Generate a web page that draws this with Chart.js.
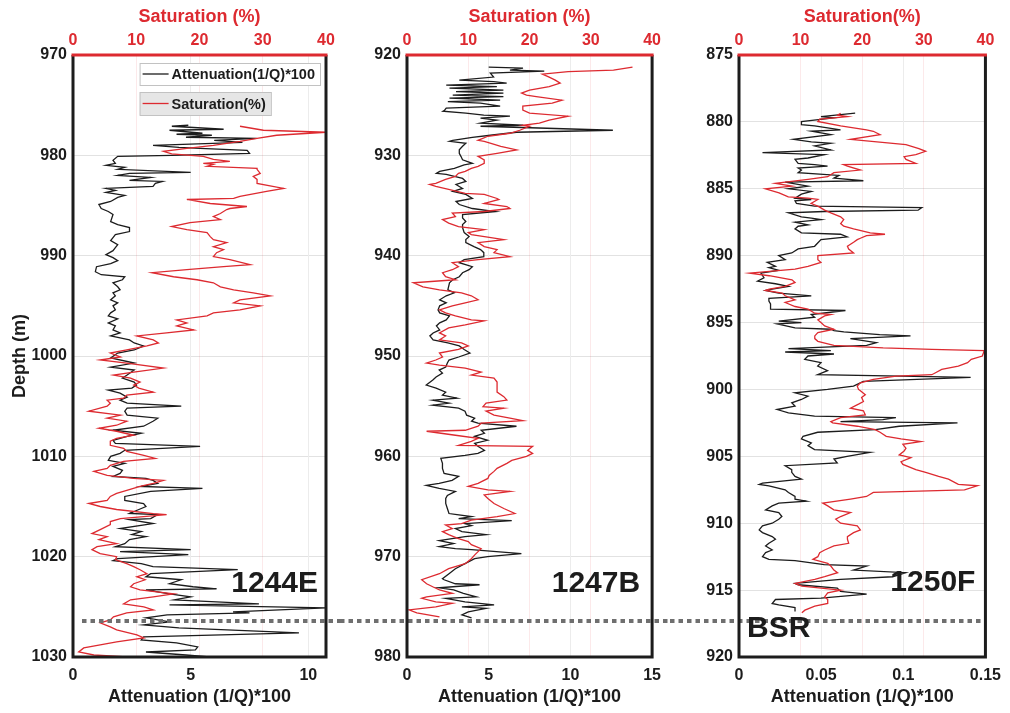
<!DOCTYPE html>
<html lang="en">
<head>
<meta charset="UTF-8">
<title>Attenuation and hydrate saturation vs depth</title>
<script src="https://cdn.jsdelivr.net/npm/chart.js"></script>
<style>
  body { margin: 0; background: #fff; }
  #wrap { position: relative; width: 1010px; height: 713px; }
  #wrap canvas { position: absolute; top: 0; }
</style>
</head>
<body>
<div id="wrap">
  <canvas id="c1244E" width="340" height="713" style="left:0px"></canvas>
  <canvas id="c1247B" width="330" height="713" style="left:340px"></canvas>
  <canvas id="c1250F" width="340" height="713" style="left:670px"></canvas>
</div>
<script>
// [depth (m), value] pairs
const att1244E = [
  [977.0,4.9],[977.1,4.2],[977.4,6.4],[977.5,4.1],[977.8,5.5],[977.9,4.4],[978.0,5.9],[978.2,4.8],[978.3,7.8],[978.5,6.0],[978.7,7.2],[979.0,3.4],[979.2,4.5],[979.3,5.4],[979.5,7.4],[979.8,7.5],[980.0,4.2],[980.1,1.9],[980.5,1.7],[980.8,1.8],[981.0,1.4],[981.2,2.2],[981.4,1.9],[981.7,5.0],[981.8,2.4],[982.0,1.9],[982.2,3.3],[982.5,2.4],[982.6,3.8],[982.8,3.5],[983.1,3.4],[983.3,1.4],[983.5,1.8],[983.7,1.4],[984.0,2.2],[984.2,1.9],[984.6,1.6],[984.9,1.1],[985.3,1.2],[985.6,1.5],[985.9,1.7],[986.6,1.6],[986.9,1.9],[987.2,2.4],[987.6,2.4],[987.9,1.8],[988.2,1.7],[988.5,1.6],[988.9,1.9],[989.2,1.8],[989.5,1.7],[989.9,1.4],[990.2,1.7],[990.5,1.9],[990.8,1.6],[991.1,1.0],[991.6,0.95],[991.9,1.2],[992.1,2.2],[992.4,2.1],[992.7,1.7],[993.1,1.9],[993.4,2.0],[993.7,1.7],[994.0,1.8],[994.4,1.6],[994.7,1.9],[995.0,1.7],[995.4,1.8],[995.7,1.6],[996.0,1.5],[996.3,1.9],[996.7,1.5],[997.0,1.8],[997.4,1.7],[997.7,2.0],[998.0,1.6],[998.4,2.4],[998.7,2.6],[999.0,3.0],[999.4,2.6],[999.7,1.9],
  [1000.2,1.6],[1000.7,2.6],[1001.1,1.6],[1001.4,2.6],[1001.9,2.3],[1002.2,2.1],[1002.6,2.6],[1002.9,2.7],[1003.2,2.5],[1003.4,1.5],[1003.7,2.0],[1004.1,2.3],[1004.4,2.0],[1004.7,2.3],[1005.0,4.6],[1005.2,2.3],[1005.5,2.2],[1005.9,2.3],[1006.2,3.6],[1006.5,3.4],[1007.0,3.0],[1007.4,1.7],[1007.7,2.9],[1008.0,2.3],[1008.4,1.7],[1008.7,1.8],[1009.0,5.4],[1009.4,2.2],[1009.7,2.0],[1010.0,1.6],[1010.4,1.5],[1010.7,2.2],[1011.0,1.7],[1011.4,2.1],[1011.7,2.0],[1012.0,1.7],[1012.2,3.1],[1012.4,3.4],[1012.7,3.6],[1013.0,2.9],[1013.2,5.5],[1013.5,3.3],[1014.0,2.2],[1014.4,2.2],[1014.7,3.0],[1015.0,3.1],[1015.3,2.8],[1015.7,2.4],[1015.8,3.6],[1016.2,3.3],[1016.3,2.4],[1016.7,3.4],[1016.8,3.1],[1017.2,2.0],[1017.5,2.9],[1017.8,2.5],[1018.0,3.1],[1018.3,2.4],[1018.7,2.2],[1019.0,1.8],[1019.3,5.0],[1019.5,2.0],[1019.8,4.9],[1020.2,1.9],[1020.4,1.7],[1020.7,2.9],[1021.0,3.4],[1021.3,7.0],[1021.7,3.3],[1022.0,3.1],[1022.3,4.6],[1022.7,4.1],[1023.0,5.1],[1023.2,6.1],[1023.3,3.1],[1023.7,4.1],[1024.0,5.0],[1024.3,4.3],[1024.7,7.9],[1024.8,4.1],[1025.1,10.8],[1025.5,6.8],[1025.6,7.5],[1025.8,4.0],[1026.1,3.1],[1026.5,4.1],[1026.8,3.0],[1027.1,4.5],[1027.6,9.6],[1028.0,3.0],[1028.3,2.9],[1028.6,4.4],[1029.0,5.3],[1029.3,5.2],[1029.5,3.1],[1029.8,4.8],[1030.0,5.8]
];
const sat1244E = [
  [977.1,26.4],[977.5,30.1],[977.7,40.0],[978.0,32.2],[978.3,29.1],[978.6,26.4],[979.0,22.2],[979.3,18.0],[979.6,14.3],[979.85,15.6],[980.1,20.6],[980.4,22.2],[980.6,24.8],[980.8,20.6],[980.9,22.2],[981.1,21.2],[981.3,29.1],[981.4,29.1],[981.8,29.6],[982.1,28.5],[982.4,29.1],[982.8,29.1],[983.3,33.3],[983.6,30.6],[984.1,26.4],[984.3,25.4],[984.4,18.0],[984.8,21.7],[985.1,27.5],[985.3,24.8],[985.4,24.3],[985.8,23.3],[986.1,22.2],[986.4,23.3],[986.7,18.5],[987.1,15.6],[987.4,18.0],[987.7,21.2],[988.1,21.7],[988.4,22.2],[988.7,24.3],[989.1,22.2],[989.4,23.8],[989.7,22.7],[990.1,22.2],[990.4,24.8],[990.9,28.0],[991.1,23.8],[991.4,18.0],[991.7,12.5],[992.1,15.9],[992.4,19.6],[992.7,22.2],[993.1,23.3],[993.4,25.4],[993.7,28.5],[994.0,31.2],[994.4,26.4],[994.7,25.4],[995.0,29.6],[995.4,26.4],[995.7,22.2],[996.0,21.2],[996.4,16.4],[996.7,18.0],[997.0,16.4],[997.4,19.1],[997.7,14.8],[998.0,10.1],[998.4,12.7],[998.7,13.5],[999.0,11.7],[999.4,8.5],[999.7,5.9],
  [1000.1,7.5],[1000.4,4.3],[1000.7,8.5],[1001.2,14.3],[1001.6,9.6],[1001.9,6.4],[1002.2,9.1],[1002.6,10.6],[1002.9,9.6],[1003.2,10.4],[1003.6,12.7],[1003.9,8.5],[1004.2,8.0],[1004.4,5.4],[1004.7,5.9],[1005.0,5.4],[1005.5,2.5],[1005.9,7.5],[1006.2,5.4],[1006.5,8.5],[1006.9,6.9],[1007.2,4.1],[1007.5,6.9],[1007.9,9.6],[1008.2,6.9],[1008.5,5.9],[1008.9,5.9],[1009.2,8.0],[1009.5,8.5],[1009.9,11.2],[1010.2,13.0],[1010.5,8.0],[1010.9,5.9],[1011.2,5.4],[1011.5,3.3],[1011.9,5.4],[1012.2,9.6],[1012.4,14.3],[1012.7,12.7],[1013.0,10.6],[1013.4,8.5],[1013.7,6.9],[1014.0,5.9],[1014.4,5.4],[1014.7,2.5],[1015.0,4.3],[1015.3,6.9],[1015.7,12.7],[1015.8,14.8],[1016.2,7.5],[1016.5,5.9],[1016.8,5.9],[1017.3,4.3],[1017.7,3.0],[1018.0,5.4],[1018.3,4.1],[1018.7,6.9],[1019.0,3.8],[1019.3,3.0],[1019.7,4.3],[1020.0,6.9],[1020.3,6.7],[1020.7,8.5],[1021.0,9.6],[1021.3,10.6],[1021.7,11.7],[1022.0,10.1],[1022.3,11.4],[1022.7,9.6],[1023.0,9.1],[1023.3,10.6],[1023.7,15.9],[1024.0,12.7],[1024.3,9.1],[1024.7,8.0],[1025.0,11.2],[1025.3,12.7],[1025.6,8.5],[1026.0,6.4],[1026.3,5.9],[1026.6,4.3],[1027.0,5.9],[1027.3,6.9],[1027.8,10.1],[1028.1,11.2],[1028.5,6.9],[1028.8,4.3],[1029.1,1.7],[1029.5,0.9],[1029.8,3.3],[1030.0,8.5]
];
const att1247B = [
  [921.2,5.0],[921.3,7.1],[921.5,6.3],[921.6,8.4],[921.8,5.1],[922.2,5.3],[922.5,3.2],[922.65,5.3],[922.8,6.1],[923.0,2.4],[923.15,5.5],[923.3,2.6],[923.5,5.9],[923.65,3.0],[923.8,5.9],[924.0,2.8],[924.15,5.9],[924.3,2.6],[924.5,5.7],[924.65,2.5],[924.8,4.5],[925.1,5.7],[925.3,2.4],[925.5,2.3],[925.6,2.2],[925.8,3.6],[926.0,4.7],[926.1,6.3],[926.3,4.5],[926.5,5.5],[926.8,4.5],[927.0,7.1],[927.1,4.5],[927.5,12.6],[927.7,6.7],[928.0,5.1],[928.2,4.0],[928.5,2.8],[928.6,2.6],[928.8,3.6],[929.1,3.4],[929.45,3.2],[929.8,3.2],[930.1,3.3],[930.45,3.4],[930.8,4.0],[930.95,3.5],[931.3,2.9],[931.6,2.0],[931.8,1.8],[931.9,2.4],[932.3,3.4],[932.6,3.6],[932.9,3.0],[933.3,3.4],[933.6,2.8],[933.9,3.6],[934.3,4.0],[934.6,3.0],[934.9,3.2],[935.3,4.0],[935.6,5.4],[935.9,3.4],[936.25,3.4],[936.6,3.6],[936.9,3.4],[937.2,3.4],[937.7,3.5],[938.1,3.8],[938.4,3.6],[938.7,3.6],[939.1,4.1],[939.4,4.5],[939.7,4.7],[940.1,4.7],[940.4,3.5],[940.7,3.2],[941.1,4.0],[941.4,3.8],[941.7,3.4],[942.1,3.2],[942.4,2.8],[942.7,2.6],[943.4,2.5],[943.7,2.9],[944.0,2.4],[944.4,2.0],[944.7,2.4],[945.0,2.0],[945.4,1.9],[945.7,2.0],[946.0,2.6],[946.4,2.4],[946.7,2.0],[947.0,1.8],[947.4,2.0],[947.7,1.6],[948.0,1.4],[948.4,1.6],[948.7,2.5],[949.0,3.2],[949.35,3.5],[949.7,3.85],
  [950.1,3.16],[950.4,2.57],[950.7,2.47],[951.1,2.37],[951.4,1.97],[951.7,2.17],[952.1,1.78],[952.4,1.58],[952.9,1.18],[953.2,1.78],[953.6,2.37],[953.9,2.17],[954.2,3.06],[954.4,1.58],[954.7,2.57],[954.9,1.58],[955.2,3.16],[955.5,3.55],[955.9,3.65],[956.2,4.14],[956.5,3.95],[956.7,4.34],[957.0,6.7],[957.4,4.54],[957.7,4.74],[958.0,4.14],[958.4,4.93],[958.7,4.14],[959.0,4.34],[959.4,4.74],[959.7,4.34],[959.9,3.55],[960.2,2.07],[960.7,2.17],[961.2,2.17],[961.7,2.27],[962.0,3.16],[962.4,2.76],[962.7,1.97],[962.9,1.18],[963.2,1.97],[963.5,2.96],[963.9,2.47],[964.2,2.37],[964.7,2.37],[965.2,2.47],[965.7,2.57],[965.8,3.06],[966.0,3.95],[966.2,3.16],[966.4,6.41],[966.7,3.55],[966.9,3.95],[967.2,2.96],[967.5,3.36],[967.8,4.84],[968.0,3.55],[968.4,1.97],[968.7,2.86],[969.0,1.97],[969.2,2.96],[969.3,3.95],[969.7,7.0],[970.0,4.93],[970.2,4.14],[970.7,3.55],[971.2,2.96],[971.7,2.57],[972.2,2.17],[972.3,2.27],[972.7,2.96],[972.8,4.44],[973.1,1.97],[973.3,2.86],[973.65,3.45],[974.0,4.24],[974.15,2.37],[974.5,3.55],[974.8,5.33],[975.0,3.36],[975.15,4.84],[975.5,3.75],[975.8,3.36],[976.1,3.95]
];
const sat1247B = [
  [921.2,36.8],[921.5,33.7],[921.66,26.3],[921.9,22.1],[922.2,23.2],[922.5,24.2],[922.8,25.0],[923.15,23.2],[923.5,20.0],[923.8,18.7],[924.0,19.5],[924.15,21.1],[924.5,25.3],[924.8,23.7],[925.1,18.9],[925.5,18.9],[925.8,20.0],[926.1,26.3],[926.5,23.2],[926.8,21.6],[927.0,18.9],[927.1,20.0],[927.5,18.4],[927.8,16.8],[928.1,13.2],[928.5,11.6],[928.6,12.6],[928.8,13.7],[929.1,15.3],[929.45,17.9],[929.8,14.7],[930.1,11.6],[930.45,12.6],[930.8,12.6],[931.1,11.6],[931.3,10.5],[931.6,9.5],[931.8,8.4],[932.1,7.9],[932.4,6.3],[932.8,4.7],[932.9,3.7],[933.1,4.7],[933.4,6.8],[933.8,9.5],[933.9,12.6],[934.3,14.7],[934.4,15.0],[934.8,12.6],[935.1,16.3],[935.3,16.8],[935.6,12.6],[935.75,7.4],[936.1,7.9],[936.4,5.8],[936.75,6.8],[937.1,8.4],[937.4,12.6],[937.7,10.0],[937.9,10.5],[938.2,13.7],[938.4,15.8],[938.7,11.6],[939.1,12.6],[939.4,14.7],[939.7,14.2],[940.1,16.8],[940.4,11.6],[940.7,7.4],[941.1,8.4],[941.4,7.4],[941.7,5.8],[942.1,6.3],[942.4,7.9],[942.7,1.05],[943.1,2.6],[943.4,5.3],[943.7,8.9],[944.0,10.5],[944.4,11.6],[944.7,9.5],[945.0,7.4],[945.4,5.3],[945.7,6.3],[946.0,7.9],[946.4,10.5],[946.5,12.6],[946.9,9.5],[947.2,6.8],[947.7,5.3],[948.0,6.3],[948.4,5.3],[948.7,8.9],[949.0,10.0],[949.35,8.4],[949.7,5.3],
  [950.1,5.8],[950.4,4.7],[950.7,3.2],[950.9,5.3],[951.2,9.5],[951.6,12.1],[951.9,10.5],[952.2,14.2],[952.6,14.7],[953.1,14.7],[953.6,14.7],[954.05,15.8],[954.4,16.3],[954.7,12.9],[955.05,12.4],[955.2,15.8],[955.5,12.9],[955.9,14.2],[956.2,16.8],[956.45,18.9],[956.7,12.1],[957.0,11.6],[957.4,9.5],[957.5,3.2],[957.9,7.9],[958.2,11.6],[958.5,10.5],[958.9,8.4],[959.0,20.5],[959.4,19.7],[959.7,20.5],[960.0,19.5],[960.4,17.1],[960.7,16.3],[961.2,14.7],[961.5,14.2],[961.9,13.4],[962.2,13.2],[962.7,11.6],[963.0,10.0],[963.35,13.2],[963.5,16.8],[963.85,12.6],[964.2,13.2],[964.7,14.2],[965.2,15.8],[965.7,17.6],[966.0,14.7],[966.35,10.5],[966.7,8.9],[966.85,6.3],[967.2,7.4],[967.5,5.8],[967.8,6.8],[968.2,8.4],[968.5,10.0],[968.8,10.5],[969.2,12.1],[969.5,11.6],[969.8,11.1],[970.2,10.5],[970.7,9.5],[971.2,6.8],[971.7,5.3],[972.3,2.4],[972.7,3.2],[973.0,4.2],[973.3,5.3],[973.65,7.4],[974.0,3.2],[974.15,2.4],[974.5,4.7],[974.65,7.4],[975.0,4.7],[975.3,0.3],[975.6,1.6],[976.0,5.3]
];
const att1250F = [
  [879.35,0.0707],[879.6,0.0499],[879.7,0.0578],[879.97,0.038],[880.2,0.038],[880.3,0.046],[880.6,0.0618],[880.7,0.044],[880.96,0.0559],[881.3,0.0331],[881.5,0.044],[881.6,0.0559],[881.8,0.046],[882.1,0.0559],[882.3,0.0143],[882.45,0.0519],[882.7,0.042],[882.8,0.0341],[883.1,0.036],[883.2,0.046],[883.3,0.0539],[883.45,0.036],[883.6,0.038],[883.8,0.036],[884.0,0.0608],[884.2,0.0578],[884.4,0.0757],[884.5,0.0281],[884.8,0.042],[885.0,0.0301],[885.2,0.044],[885.4,0.038],[885.7,0.0341],[885.8,0.044],[885.9,0.0341],[886.1,0.035],[886.3,0.046],[886.4,0.1113],[886.6,0.109],[886.7,0.0519],[886.8,0.0301],[887.1,0.038],[887.2,0.044],[887.3,0.0499],[887.5,0.0341],[887.7,0.042],[887.8,0.036],[888.0,0.0341],[888.3,0.038],[888.4,0.0618],[888.6,0.0658],[888.8,0.0499],[889.3,0.046],[889.5,0.036],[889.8,0.0321],[890.0,0.0242],[890.3,0.0281],[890.5,0.0172],[890.8,0.0222],[890.9,0.0182],[891.1,0.0242],[891.3,0.0133],[891.65,0.0152],[891.9,0.0113],[892.1,0.0222],[892.3,0.0301],[892.5,0.0202],[892.6,0.0162],[892.8,0.0242],[893.0,0.044],[893.2,0.0182],[893.4,0.0182],[893.6,0.0192],[894.0,0.0192],[894.1,0.0648],[894.4,0.044],[894.6,0.046],[894.9,0.0242],[895.0,0.038],[895.1,0.0232],[895.4,0.0341],[895.5,0.0559],[895.6,0.0578],[895.7,0.0638],[895.9,0.0856],[896.0,0.1044],[896.2,0.0678],[896.5,0.0836],[896.7,0.0777],[896.95,0.0301],[897.1,0.0559],[897.2,0.0281],[897.35,0.0578],[897.5,0.042],[897.75,0.040],
  [898.0,0.0499],[898.25,0.0479],[898.6,0.0539],[898.9,0.0479],[899.1,0.141],[899.4,0.0757],[899.75,0.0697],[900.0,0.0539],[900.25,0.0341],[900.5,0.042],[900.75,0.038],[901.0,0.0321],[901.25,0.0341],[901.5,0.0232],[901.75,0.0301],[902.0,0.046],[902.1,0.0955],[902.25,0.0875],[902.4,0.0618],[902.5,0.133],[902.75,0.0975],[903.0,0.083],[903.2,0.0479],[903.5,0.039],[903.7,0.038],[904.0,0.044],[904.2,0.042],[904.5,0.046],[904.7,0.0797],[905.0,0.0658],[905.2,0.0578],[905.5,0.0598],[905.7,0.0281],[906.0,0.0321],[906.2,0.0321],[906.5,0.0341],[906.7,0.038],[907.0,0.0143],[907.1,0.0123],[907.2,0.0182],[907.5,0.0281],[907.7,0.0301],[908.0,0.0341],[908.2,0.0341],[908.35,0.041],[908.5,0.0242],[908.7,0.0202],[909.0,0.0162],[909.2,0.0242],[909.5,0.0261],[909.7,0.0242],[910.0,0.0202],[910.2,0.0143],[910.5,0.0123],[910.7,0.0143],[911.0,0.0202],[911.2,0.0222],[911.5,0.0182],[911.7,0.0162],[912.0,0.0202],[912.2,0.0162],[912.5,0.0143],[912.7,0.0182],[912.8,0.0341],[913.1,0.0519],[913.2,0.0777],[913.5,0.0697],[913.7,0.1014],[914.0,0.0935],[914.2,0.0618],[914.5,0.0341],[914.6,0.036],[914.85,0.0598],[915.1,0.0618],[915.3,0.0777],[915.6,0.0499],[915.7,0.0222],[916.0,0.0202],[916.1,0.0242],[916.3,0.0341],[916.6,0.0341]
];
const sat1250F = [
  [879.35,16.5],[879.5,16.0],[879.6,17.6],[879.8,13.1],[879.97,12.8],[880.3,16.5],[880.6,20.7],[880.7,21.8],[880.96,22.9],[881.3,18.1],[881.7,27.1],[882.0,29.2],[882.2,30.3],[882.45,28.7],[882.6,26.8],[882.8,27.1],[883.1,28.7],[883.2,17.0],[883.3,17.6],[883.6,19.7],[883.8,15.4],[884.1,14.4],[884.3,11.2],[884.6,5.9],[884.8,8.6],[885.0,4.3],[885.3,6.5],[885.6,8.0],[885.7,11.2],[885.8,12.8],[886.1,11.7],[886.3,12.8],[886.6,13.9],[886.8,14.9],[887.1,16.5],[887.3,17.0],[887.6,16.5],[887.8,17.0],[888.0,18.6],[888.3,21.3],[888.4,23.7],[888.5,20.7],[888.7,19.7],[888.8,19.2],[889.0,18.6],[889.3,17.6],[889.5,17.8],[889.8,18.6],[890.0,12.8],[890.3,12.8],[890.5,13.3],[890.8,11.2],[891.0,9.1],[891.3,1.7],[891.5,4.9],[891.8,8.6],[892.0,9.1],[892.3,7.5],[892.5,4.9],[892.6,4.3],[892.8,7.0],[893.0,7.5],[893.3,9.1],[893.5,7.5],[893.8,9.1],[894.0,11.2],[894.3,12.3],[894.4,14.9],[894.5,13.9],[894.8,12.8],[895.0,13.3],[895.25,13.9],[895.5,15.4],[895.75,12.8],[896.0,12.3],[896.2,12.3],[896.4,12.8],[896.7,15.4],[896.9,23.4],[897.0,31.3],[897.1,39.8],
  [897.5,39.5],[897.75,37.7],[898.0,37.1],[898.25,35.6],[898.5,32.9],[898.75,31.9],[898.9,31.3],[899.0,25.5],[899.25,21.8],[899.5,19.7],[899.75,19.2],[900.0,19.4],[900.1,19.7],[900.4,20.5],[900.6,19.9],[900.9,20.2],[901.1,19.4],[901.4,18.1],[901.6,20.2],[901.9,20.5],[902.1,16.5],[902.4,14.9],[902.5,15.2],[902.75,19.2],[903.0,22.1],[903.2,22.9],[903.5,23.9],[903.7,26.3],[903.9,29.5],[904.1,26.6],[904.4,27.1],[904.6,26.8],[904.9,26.0],[905.1,27.9],[905.4,26.3],[905.6,26.6],[906.0,28.7],[906.2,30.3],[906.5,32.4],[906.7,34.0],[907.1,35.6],[907.2,38.7],[907.5,36.6],[907.7,21.8],[908.0,20.7],[908.2,18.1],[908.5,13.6],[908.7,14.4],[909.0,15.4],[909.2,18.1],[909.5,16.5],[909.7,15.7],[910.0,16.5],[910.2,19.2],[910.5,19.7],[910.7,18.6],[911.0,17.6],[911.2,17.6],[911.5,17.8],[911.7,15.4],[912.0,13.9],[912.2,13.1],[912.5,12.8],[912.7,12.0],[913.0,14.4],[913.2,14.9],[913.5,15.4],[913.7,16.0],[914.0,13.9],[914.2,12.3],[914.5,9.1],[914.7,10.2],[915.0,16.5],[915.2,14.4],[915.5,13.9],[915.7,14.4],[916.0,14.4],[916.2,12.3],[916.5,10.7],[916.7,10.2]
];

const sites = ['1244E', '1247B', '1250F'];
const depthRanges = [[970, 1030], [920, 980], [875, 920]];
const depthSteps = [10, 10, 5];
const attRanges = [[0, 10.75], [0, 15], [0, 0.15]];
const attSteps = [5, 5, 0.05];
const satTicksMax = 40;
const satTitles = ['Saturation (%)', 'Saturation (%)', 'Saturation(%)'];
const bsrDepths = [1026.4, 976.4, 917.3];
const siteLabelDepths = [1023.5, 973.5, 915.1];
const bsrTextDepth = 918.5;

const INK = '#1c1c1c';
const RED = '#dd2a30';
const FONT = '"Liberation Sans", Arial, Helvetica, sans-serif';
Chart.defaults.font.family = FONT;

const fmt = v => String(Math.round(v * 10000) / 10000);
const toPts = pairs => pairs.map(([d, v]) => ({ x: v, y: d }));

function drawLegend(chart, a) {
  const ctx = chart.ctx;
  ctx.font = 'bold 14.5px ' + FONT;
  const sets = [chart.data.datasets[0], chart.data.datasets[1]];
  const widths = sets.map(ds => 32 + ctx.measureText(ds.label).width + 5);
  const right = a.right - 6;
  const left = right - widths[0];
  sets.forEach((ds, i) => {
    const top = a.top + 8 + i * 29;
    const h = 22 + i;
    ctx.fillStyle = i === 0 ? '#ffffff' : '#e6e6e6';
    ctx.fillRect(left, top, widths[i], h);
    ctx.strokeStyle = '#c2c2c2';
    ctx.lineWidth = 1;
    ctx.strokeRect(left + 0.5, top + 0.5, widths[i], h);
    ctx.strokeStyle = ds.borderColor;
    ctx.lineWidth = 1.3;
    ctx.beginPath();
    ctx.moveTo(left + 3, top + h / 2);
    ctx.lineTo(left + 29, top + h / 2);
    ctx.stroke();
    ctx.fillStyle = INK;
    ctx.textAlign = 'left';
    ctx.textBaseline = 'middle';
    ctx.fillText(ds.label, left + 32, top + h / 2 + 1);
  });
}

// frame, BSR line, site names and the legend
const wellDeco = {
  id: 'wellDeco',
  afterDatasetsDraw(chart, args, o) {
    const { ctx, chartArea: a } = chart;
    const y = chart.scales.y;
    ctx.save();

    const by = y.getPixelForValue(o.bsrDepth);
    ctx.setLineDash([4.5, 4]);
    ctx.lineWidth = 4;
    ctx.strokeStyle = '#6f6f6f';
    ctx.beginPath();
    ctx.moveTo(o.bsrFromEdge ? 0 : a.left + 9, by);
    ctx.lineTo(o.bsrToEdge ? chart.width : a.right - 2, by);
    ctx.stroke();
    ctx.setLineDash([]);

    ctx.lineWidth = 3;
    ctx.strokeStyle = INK;
    ctx.beginPath();
    ctx.moveTo(a.left, a.top);
    ctx.lineTo(a.left, a.bottom);
    ctx.lineTo(a.right, a.bottom);
    ctx.lineTo(a.right, a.top);
    ctx.stroke();
    ctx.strokeStyle = RED;
    ctx.beginPath();
    ctx.moveTo(a.left - 1.5, a.top);
    ctx.lineTo(a.right + 1.5, a.top);
    ctx.stroke();

    ctx.fillStyle = INK;
    ctx.font = 'bold 30px ' + FONT;
    ctx.textBaseline = 'alphabetic';
    ctx.textAlign = 'right';
    ctx.fillText(o.site, a.right - o.siteInset, y.getPixelForValue(o.siteDepth));
    if (o.bsrText) {
      ctx.textAlign = 'left';
      ctx.fillText('BSR', a.left + 8, y.getPixelForValue(bsrTextDepth));
    }
    if (o.legend) drawLegend(chart, a);
    ctx.restore();
  }
};

const layouts = [
  { yWidth: 73, padRight: 14, siteInset: 8, depthTitle: true, legend: true, bsrFromEdge: false, bsrToEdge: true, bsrText: false },
  { yWidth: 67, padRight: 10, siteInset: 12, depthTitle: false, legend: false, bsrFromEdge: true, bsrToEdge: true, bsrText: false },
  { yWidth: 69, padRight: 18, siteInset: 10, depthTitle: false, legend: false, bsrFromEdge: true, bsrToEdge: false, bsrText: true }
];
const attData = [att1244E, att1247B, att1250F];
const satData = [sat1244E, sat1247B, sat1250F];

const tickFont = { size: 16, weight: 'bold' };
const titleFont = { size: 18, weight: 'bold' };

sites.forEach((site, i) => {
  const L = layouts[i];
  new Chart(document.getElementById('c' + site), {
    type: 'scatter',
    data: {
      datasets: [
        {
          label: 'Attenuation(1/Q)*100',
          data: toPts(attData[i]),
          xAxisID: 'xAtt', yAxisID: 'y',
          showLine: true, borderColor: INK, borderWidth: 1.3,
          pointRadius: 0, order: 2
        },
        {
          label: 'Saturation(%)',
          data: toPts(satData[i]),
          xAxisID: 'xSat', yAxisID: 'y',
          showLine: true, borderColor: RED, borderWidth: 1.3,
          pointRadius: 0, order: 1
        }
      ]
    },
    options: {
      responsive: false,
      animation: false,
      events: [],
      layout: { padding: { left: 0, right: L.padRight, top: 0, bottom: 0 } },
      plugins: {
        legend: { display: false },
        tooltip: { enabled: false },
        wellDeco: {
          site: site, siteDepth: siteLabelDepths[i], siteInset: L.siteInset,
          bsrDepth: bsrDepths[i], bsrFromEdge: L.bsrFromEdge, bsrToEdge: L.bsrToEdge,
          bsrText: L.bsrText, legend: L.legend
        }
      },
      scales: {
        y: {
          type: 'linear', reverse: true,
          min: depthRanges[i][0], max: depthRanges[i][1],
          afterFit: s => { s.width = L.yWidth; },
          ticks: { stepSize: depthSteps[i], padding: 6, color: INK, font: tickFont, callback: fmt },
          grid: { color: '#e2e2e2', drawTicks: false },
          border: { display: false },
          title: { display: L.depthTitle, text: 'Depth (m)', color: INK, font: titleFont, padding: { top: 9, bottom: 0 } }
        },
        xAtt: {
          type: 'linear', position: 'bottom',
          min: attRanges[i][0], max: attRanges[i][1],
          afterFit: s => { s.height = 56; },
          ticks: { stepSize: attSteps[i], includeBounds: false, padding: 9, maxRotation: 0, color: INK, font: tickFont, callback: fmt },
          grid: { color: '#ececec', drawTicks: false },
          border: { display: false },
          title: { display: true, text: 'Attenuation (1/Q)*100', color: INK, font: titleFont, padding: { top: 0, bottom: 5 } }
        },
        xSat: {
          type: 'linear', position: 'top',
          min: 0, max: satTicksMax,
          afterFit: s => { s.height = 55; },
          ticks: { stepSize: 10, padding: 5, maxRotation: 0, color: RED, font: tickFont, callback: fmt },
          grid: { color: 'rgba(221,42,48,0.10)', drawTicks: false },
          border: { display: false },
          title: { display: true, text: satTitles[i], color: RED, font: titleFont, padding: { top: 6, bottom: 0 } }
        }
      }
    },
    plugins: [wellDeco]
  });
});
</script>
</body>
</html>
